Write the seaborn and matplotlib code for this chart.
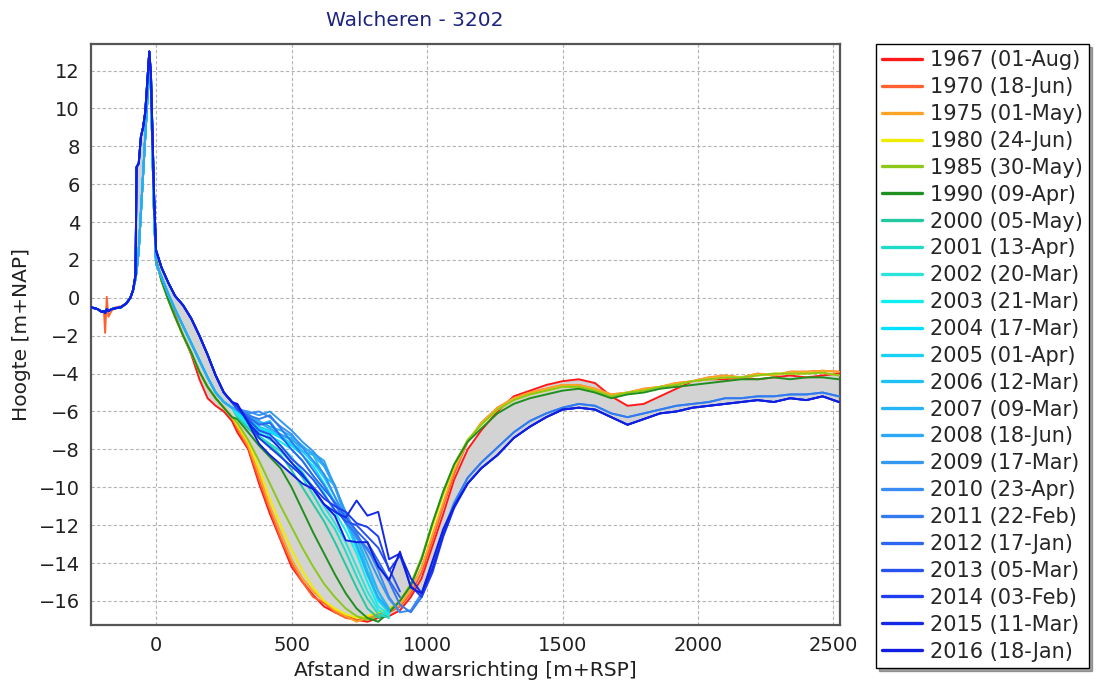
#!/usr/bin/env python3
"""Walcheren raai 3202 - dwarsprofielen 1967-2016"""
import numpy as np, pandas as pd
import matplotlib; matplotlib.use('Agg')
import matplotlib.pyplot as plt
from matplotlib.ticker import MultipleLocator
import seaborn as sns

# afstand in dwarsrichting [m+RSP], per deel van het profiel
DUNE_X = [-240, -215, -200, -192, -188, -182, -176, -165, -150, -130, -110, -95,
          -85, -76, -72, -64, -56, -48, -40, -32, -25, -19, -13, -7]
SHORE_X = [0, 20, 45, 70, 100, 130, 160, 190, 220, 250, 280]
CH_X = [300, 340, 380, 420, 460, 500, 540, 580, 620, 660, 700, 740, 780, 820,
        860, 900, 940, 980, 1020, 1060, 1100]
FAR_X = [1150, 1200, 1260, 1320, 1380, 1440, 1500, 1560, 1620, 1680, 1740, 1800,
         1860, 1920, 1980, 2040, 2100, 2160, 2220, 2280, 2340, 2400, 2460, 2520]

# duin
DUNE_OLD = [-0.5, -0.6, -0.75, -0.7, -0.8, -0.6, -0.7, -0.6, -0.55, -0.5, -0.3, 0.0,
            0.4, 1.0, 1.4, 2.5, 4.5, 6.5, 8.5, 10.5, 12.8, 11.0, 7.5, 4.2]
DUNE_SPIKE = [-0.5, -0.6, -0.75, -0.8, -1.85, 0.05, -1.0, -0.7, -0.5, -0.45, -0.3, 0.0,
              0.4, 1.0, 1.4, 2.5, 4.5, 6.5, 8.5, 10.5, 12.8, 11.0, 7.5, 4.2]
DUNE_NEW = [-0.5, -0.6, -0.75, -0.7, -0.8, -0.6, -0.7, -0.6, -0.55, -0.5, -0.3, 0.0,
            0.4, 1.2, 6.9, 7.1, 8.5, 9.0, 9.8, 11.5, 13.0, 11.8, 8.5, 5.2]

# vooroever
SHORE_RED = [2.0, 1.0, 0.0, -0.9, -2.0, -3.0, -4.3, -5.3, -5.7, -6.0, -6.5]
SHORE_EARLY = [2.0, 0.9, -0.1, -1.0, -2.0, -2.9, -3.9, -4.7, -5.3, -5.8, -6.3]
SHORE_MID = [1.8, 1.1, 0.2, -0.6, -1.5, -2.4, -3.3, -4.2, -5.0, -5.5, -5.8]
SHORE_LATE = [2.5, 1.6, 0.8, 0.1, -0.4, -1.1, -2.0, -3.0, -4.1, -5.0, -5.5]

# geul, per jaar
CH_1967 = [-7.1, -8.0, -9.8, -11.4, -12.8, -14.2, -15.0, -15.7, -16.3, -16.6, -16.8,
           -17.0, -17.1, -16.9, -16.8, -16.5, -15.8, -14.8, -13.1, -11.4, -9.6]
CH_1970 = [-6.9, -7.9, -9.6, -11.2, -12.7, -14.0, -15.0, -15.8, -16.1, -16.6, -16.9,
           -17.0, -16.9, -16.7, -16.6, -16.3, -15.6, -14.5, -12.8, -11.0, -9.3]
CH_1975 = [-6.8, -7.8, -9.3, -11.0, -12.4, -13.8, -14.8, -15.5, -16.0, -16.5, -16.8,
           -17.1, -16.9, -16.6, -16.5, -16.2, -15.4, -14.2, -12.5, -10.8, -9.1]
CH_1980 = [-6.7, -7.6, -9.0, -10.6, -12.0, -13.3, -14.4, -15.3, -16.0, -16.4, -16.7,
           -16.9, -16.8, -16.6, -16.4, -16.0, -15.1, -13.8, -12.1, -10.4, -8.9]
CH_1985 = [-6.6, -7.5, -8.6, -9.8, -11.0, -12.1, -13.2, -14.2, -15.1, -15.8, -16.4,
           -16.8, -17.0, -16.8, -16.5, -16.0, -15.1, -13.7, -11.9, -10.3, -8.8]
CH_1990 = [-6.4, -7.1, -7.8, -8.4, -9.0, -10.0, -11.2, -12.4, -13.5, -14.6, -15.6,
           -16.4, -16.9, -17.1, -16.6, -16.0, -15.2, -13.8, -11.9, -10.2, -8.8]
CH_2000 = [-6.3, -6.9, -7.4, -7.8, -8.3, -9.1, -10.0, -10.9, -11.8, -12.9, -14.1,
           -15.3, -16.4, -16.9, -16.6]
CH_2001 = [-6.2, -6.8, -7.3, -7.7, -8.1, -8.7, -9.5, -10.4, -11.4, -12.2, -13.4,
           -14.7, -15.9, -16.7, -16.9]
CH_2002 = [-6.2, -6.7, -7.1, -7.5, -7.8, -8.4, -9.2, -10.0, -11.0, -11.9, -12.9,
           -14.2, -15.5, -16.5, -16.8]
CH_2003 = [-6.1, -6.6, -7.0, -7.3, -7.6, -8.0, -8.6, -9.4, -10.3, -11.3, -12.3,
           -13.5, -15.0, -16.3, -16.7]
CH_2004 = [-6.0, -6.5, -6.9, -7.1, -7.4, -7.8, -8.3, -8.9, -9.8, -10.8, -11.9,
           -13.2, -14.6, -16.0, -16.6]
CH_2005 = [-6.0, -6.4, -6.8, -7.0, -7.3, -7.7, -8.1, -8.7, -9.5, -10.5, -11.8,
           -13.1, -14.5, -15.9, -16.6]
CH_2006 = [-5.9, -6.1, -6.7, -6.5, -7.3, -7.4, -8.1, -8.3, -9.4, -9.9, -11.6,
           -12.6, -14.4, -15.5, -16.5]
CH_2007 = [-5.9, -6.3, -6.5, -6.8, -7.0, -7.3, -7.8, -8.3, -8.9, -10.0, -11.3,
           -12.6, -14.0, -15.5, -16.4]
CH_2008 = [-5.9, -6.2, -6.6, -6.9, -7.2, -7.5, -7.9, -8.2, -8.6, -10.0, -11.6,
           -13.0, -14.6, -15.8, -16.5]
CH_2009 = [-5.9, -6.0, -6.2, -6.0, -6.5, -7.0, -7.6, -8.1, -8.8, -9.9, -11.4,
           -12.4, -13.6, -14.8, -15.9, -16.6]
CH_2010 = [-5.8, -6.1, -6.0, -6.3, -6.8, -7.2, -7.9, -8.6, -9.3, -10.5, -11.6,
           -12.7, -13.2, -14.4, -15.8, -16.6, -16.5, -15.6, -14.0, -12.3, -10.8]
CH_2011 = [-5.9, -6.2, -6.4, -6.2, -6.9, -7.6, -8.3, -9.1, -9.9, -10.9, -11.9,
           -12.5, -13.3, -14.1, -15.0, -16.2, -16.6, -15.8, -14.2, -12.4, -10.9]
CH_2012 = [-5.8, -6.3, -6.7, -6.6, -7.3, -8.0, -8.6, -9.4, -10.1, -10.8, -11.6,
           -12.3, -12.9, -13.9, -14.9, -15.8]
CH_2013 = [-5.9, -6.4, -7.0, -7.2, -7.8, -8.5, -9.0, -9.6, -10.4, -11.2, -11.8,
           -12.0, -12.6, -13.2, -14.3, -15.5]
CH_2014 = [-5.7, -6.5, -7.4, -7.9, -8.4, -8.9, -9.4, -10.0, -10.6, -11.0, -11.3,
           -11.9, -12.1, -12.6, -14.4, -13.6, -15.2, -15.8, -14.5, -12.6, -11.1]
CH_2015 = [-5.7, -6.6, -7.2, -7.4, -8.0, -8.7, -9.3, -10.1, -10.9, -11.3, -11.6,
           -10.7, -11.5, -11.3, -13.8, -13.5, -14.8, -15.6, -14.3, -12.5, -11.0]
CH_2016 = [-5.6, -6.6, -7.7, -8.3, -8.8, -9.3, -9.8, -10.1, -10.9, -11.5, -12.8,
           -12.9, -12.9, -14.2, -14.9, -13.4, -15.3, -15.6, -13.9, -12.2, -11.0]

# zeewaarts deel
FAR_RED = [-8.0, -7.0, -6.0, -5.2, -4.9, -4.6, -4.4, -4.3, -4.5, -5.2, -5.7, -5.6,
           -5.2, -4.8, -4.4, -4.3, -4.3, -4.2, -4.3, -4.2, -4.1, -4.2, -4.1, -4.0]
FAR_ORANGE = [-7.6, -6.6, -5.8, -5.3, -5.0, -4.8, -4.6, -4.6, -4.8, -5.1, -5.0, -4.8,
              -4.7, -4.5, -4.4, -4.2, -4.1, -4.2, -4.0, -4.1, -3.9, -3.9, -3.85, -3.9]
FAR_YELLOW = [-7.5, -6.7, -5.9, -5.4, -5.1, -4.9, -4.7, -4.7, -4.9, -5.2, -5.0, -4.9,
              -4.7, -4.6, -4.4, -4.3, -4.2, -4.2, -4.1, -4.0, -4.0, -4.0, -3.95, -4.1]
FAR_GREEN = [-7.6, -6.9, -6.1, -5.6, -5.3, -5.1, -4.9, -4.8, -5.0, -5.3, -5.1, -5.0,
             -4.8, -4.7, -4.6, -4.5, -4.4, -4.3, -4.3, -4.2, -4.3, -4.2, -4.2, -4.3]
FAR_LIGHTBLUE = [-9.5, -8.7, -7.9, -7.1, -6.5, -6.1, -5.8, -5.6, -5.7, -6.1, -6.3, -6.1,
                 -5.9, -5.7, -5.6, -5.5, -5.3, -5.3, -5.2, -5.2, -5.1, -5.1, -5.0, -5.2]
FAR_BLUE = [-9.8, -9.0, -8.3, -7.4, -6.8, -6.3, -5.9, -5.8, -5.9, -6.3, -6.7, -6.4,
            -6.1, -6.0, -5.8, -5.7, -5.6, -5.5, -5.4, -5.5, -5.3, -5.4, -5.2, -5.5]

LABELS = ["1967 (01-Aug)", "1970 (18-Jun)", "1975 (01-May)", "1980 (24-Jun)",
          "1985 (30-May)", "1990 (09-Apr)", "2000 (05-May)", "2001 (13-Apr)",
          "2002 (20-Mar)", "2003 (21-Mar)", "2004 (17-Mar)", "2005 (01-Apr)",
          "2006 (12-Mar)", "2007 (09-Mar)", "2008 (18-Jun)", "2009 (17-Mar)",
          "2010 (23-Apr)", "2011 (22-Feb)", "2012 (17-Jan)", "2013 (05-Mar)",
          "2014 (03-Feb)", "2015 (11-Mar)", "2016 (18-Jan)"]
COLORS = ["#ff1a1a", "#ff6030", "#ffa326", "#f0ec00", "#8cc81a", "#1f8f1f",
          "#22c8a0", "#1edcc8", "#2ae4dc", "#10eef0", "#00e0ff", "#1ad0f5",
          "#1ec2f5", "#26b4f5", "#2ca8f5", "#3498f0", "#3a8cf5", "#327af0",
          "#2d66f0", "#2852f0", "#1e3ef0", "#142ae6", "#0f1ee0"]

SEGMENTS = [
    (DUNE_OLD, SHORE_RED, CH_1967, FAR_RED),
    (DUNE_SPIKE, SHORE_EARLY, CH_1970, FAR_ORANGE),
    (DUNE_OLD, SHORE_EARLY, CH_1975, FAR_ORANGE),
    (DUNE_OLD, SHORE_EARLY, CH_1980, FAR_YELLOW),
    (DUNE_OLD, SHORE_EARLY, CH_1985, FAR_YELLOW),
    (DUNE_OLD, SHORE_EARLY, CH_1990, FAR_GREEN),
    (DUNE_OLD, SHORE_MID, CH_2000, []),
    (DUNE_OLD, SHORE_MID, CH_2001, []),
    (DUNE_OLD, SHORE_MID, CH_2002, []),
    (DUNE_OLD, SHORE_MID, CH_2003, []),
    (DUNE_OLD, SHORE_MID, CH_2004, []),
    (DUNE_OLD, SHORE_MID, CH_2005, []),
    (DUNE_OLD, SHORE_MID, CH_2006, []),
    (DUNE_OLD, SHORE_MID, CH_2007, []),
    (DUNE_OLD, SHORE_MID, CH_2008, []),
    (DUNE_NEW, SHORE_LATE, CH_2009, []),
    (DUNE_NEW, SHORE_LATE, CH_2010, FAR_LIGHTBLUE),
    (DUNE_NEW, SHORE_LATE, CH_2011, FAR_LIGHTBLUE),
    (DUNE_NEW, SHORE_LATE, CH_2012, []),
    (DUNE_NEW, SHORE_LATE, CH_2013, []),
    (DUNE_NEW, SHORE_LATE, CH_2014, FAR_BLUE),
    (DUNE_NEW, SHORE_LATE, CH_2015, FAR_BLUE),
    (DUNE_NEW, SHORE_LATE, CH_2016, FAR_BLUE),
]

X_ALL = DUNE_X + SHORE_X + CH_X + FAR_X

rows = []
profiles = {}
for lab, seg in zip(LABELS, SEGMENTS):
    y = seg[0] + seg[1] + seg[2] + seg[3]
    x = X_ALL[:len(y)]
    profiles[lab] = (x, y)
    rows += [(lab, xi, yi) for xi, yi in zip(x, y)]
df = pd.DataFrame(rows, columns=["jaar", "afstand", "hoogte"])

sns.set_style("white")
plt.rcParams['font.family'] = ['DejaVu Sans']

fig = plt.figure(figsize=(10.97, 6.84), dpi=100)
ax = fig.add_axes([0.083, 0.0863, 0.6827, 0.8494])

# grijs vlak tussen eerste en laatste meting
x0, y0 = profiles[LABELS[0]]
x1, y1 = profiles[LABELS[-1]]
ax.fill_between(x0, y0, y1, color="#d3d3d3", linewidth=0, zorder=1)

sns.lineplot(data=df, x="afstand", y="hoogte", hue="jaar", hue_order=LABELS,
             palette=dict(zip(LABELS, COLORS)), estimator=None, sort=False,
             linewidth=1.4, ax=ax, zorder=3)

ax.set_xlim(-240, 2524)
ax.set_ylim(-17.27, 13.4)
ax.xaxis.set_major_locator(MultipleLocator(500))
ax.xaxis.set_minor_locator(MultipleLocator(125))
ax.yaxis.set_major_locator(MultipleLocator(2))
ax.yaxis.set_minor_locator(MultipleLocator(0.5))
ax.grid(True, which="major", linestyle=(0, (3, 2)), color="#b4b4b4", linewidth=0.8)
ax.set_axisbelow(True)
ax.tick_params(which="major", length=0, labelsize=14, colors="#202020", pad=8)
ax.tick_params(which="minor", length=3, color="#909090", width=0.8)
for s in ax.spines.values():
    s.set_color("#555555")
    s.set_linewidth(1.6)

ax.set_xlabel("Afstand in dwarsrichting [m+RSP]", fontsize=14.5, color="#202020")
ax.set_ylabel("Hoogte [m+NAP]", fontsize=14.5, color="#202020")
ax.xaxis.set_label_coords(0.5, -0.062)
ax.yaxis.set_label_coords(-0.080, 0.5)

fig.text(0.378, 0.970, "Walcheren - 3202", fontsize=14.5, color="#1c237e",
         ha="center", va="center")

handles, labels = ax.get_legend_handles_labels()
ax.get_legend().remove()
leg = fig.legend(handles, labels, loc="upper left", bbox_to_anchor=(876 / 1097, 1 - 44 / 684),
                 bbox_transform=fig.transFigure, borderaxespad=0, fancybox=False,
                 shadow=True, edgecolor="black", fontsize=15, handlelength=1.9,
                 handletextpad=0.4, labelspacing=0.33, borderpad=0.3)
leg.get_frame().set_linewidth(1.0)
for ln in leg.get_lines():
    ln.set_linewidth(2.4)

fig.savefig("out.png", dpi=100)
print("DONE")
